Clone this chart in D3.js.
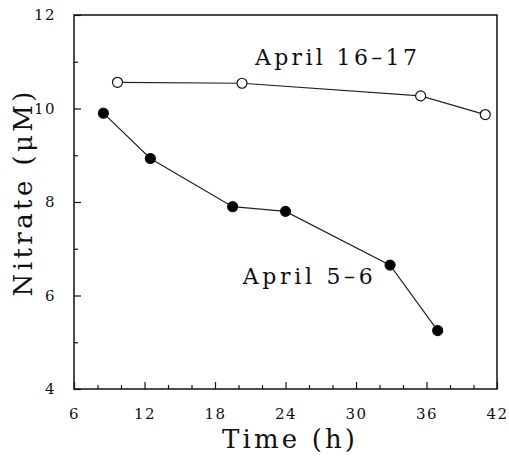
<!DOCTYPE html>
<html>
<head>
<meta charset="utf-8">
<script src="https://cdn.jsdelivr.net/npm/d3@7"></script>
<style>
  body { margin: 0; background: #fff; }
  svg { display: block; }
  text { font-family: "DejaVu Serif", serif; fill: #111; }
</style>
</head>
<body>
<svg id="chart"></svg>
<script>
// April 5-6 (filled circles)
const timeApr5 = [8.5, 12.5, 19.5, 24.0, 32.9, 36.95]
const nitrateApr5 = [9.9, 8.93, 7.9, 7.8, 6.65, 5.25]
// April 16-17 (open circles)
const timeApr16 = [9.7, 20.3, 35.5, 41.0]
const nitrateApr16 = [10.56, 10.54, 10.27, 9.87]

const X_TICKS = [6, 12, 18, 24, 30, 36, 42]
const Y_TICKS = [4, 6, 8, 10, 12]

const width = 509
const height = 456
const margin = { left: 74, right: 12, top: 15, bottom: 67 }

const svg = d3.select('#chart')
    .attr('width', width)
    .attr('height', height)

const x = d3.scaleLinear().domain([6, 42]).range([margin.left, width - margin.right])
const y = d3.scaleLinear().domain([4, 12]).range([height - margin.bottom, margin.top])

// frame
svg.append('rect')
    .attr('x', x(6))
    .attr('y', y(12))
    .attr('width', x(42) - x(6))
    .attr('height', y(4) - y(12))
    .attr('fill', 'none')
    .attr('stroke', '#111')
    .attr('stroke-width', 1.5)

// bottom axis: major ticks with labels, minor ticks every 2 h
const xMinor = d3.range(8, 42, 2).filter(d => !X_TICKS.includes(d))
svg.append('g')
    .attr('transform', `translate(0,${y(4)})`)
    .call(d3.axisBottom(x).tickValues(xMinor).tickSize(-4).tickFormat(''))
    .call(g => g.select('.domain').remove())
svg.append('g')
    .attr('transform', `translate(0,${y(4)})`)
    .call(d3.axisBottom(x).tickValues(X_TICKS).tickSize(-7).tickPadding(19))
    .call(g => g.select('.domain').remove())
    .call(g => g.selectAll('text').style('font-size', '15px').attr('letter-spacing', '1.5px'))

// left axis
const yMinor = [5, 7, 9, 11]
svg.append('g')
    .attr('transform', `translate(${x(6)},0)`)
    .call(d3.axisLeft(y).tickValues(yMinor).tickSize(-4).tickFormat(''))
    .call(g => g.select('.domain').remove())
svg.append('g')
    .attr('transform', `translate(${x(6)},0)`)
    .call(d3.axisLeft(y).tickValues(Y_TICKS).tickSize(-7).tickPadding(18))
    .call(g => g.select('.domain').remove())
    .call(g => g.selectAll('text').style('font-size', '15px').attr('letter-spacing', '1.5px'))

svg.selectAll('.tick line').attr('stroke', '#111').attr('stroke-width', 1.2)
svg.selectAll('.tick text').attr('fill', '#111').attr('font-family', '"DejaVu Serif", serif')

// axis titles
svg.append('text')
    .attr('x', (x(6) + x(42)) / 2 + 3)
    .attr('y', 448)
    .attr('text-anchor', 'middle')
    .style('font-size', '26px')
    .attr('textLength', 133)
    .attr('lengthAdjust', 'spacing')
    .text('Time (h)')

svg.append('text')
    .attr('transform', 'translate(32,194) rotate(-90)')
    .attr('text-anchor', 'middle')
    .style('font-size', '26px')
    .attr('textLength', 205)
    .attr('lengthAdjust', 'spacing')
    .text('Nitrate (μM)')

function drawSeries(times, values, filled) {
    const pts = times.map((t, i) => [t, values[i]])
    const line = d3.line().x(d => x(d[0])).y(d => y(d[1]))

    svg.append('path')
        .datum(pts)
        .attr('d', line)
        .attr('fill', 'none')
        .attr('stroke', '#222')
        .attr('stroke-width', 1.2)

    svg.append('g').selectAll('circle')
        .data(pts)
        .enter().append('circle')
        .attr('cx', d => x(d[0]))
        .attr('cy', d => y(d[1]))
        .attr('r', 5)
        .attr('fill', filled ? '#000' : '#fff')
        .attr('stroke', '#111')
        .attr('stroke-width', 1.2)
}

drawSeries(timeApr16, nitrateApr16, false)
drawSeries(timeApr5, nitrateApr5, true)

// series labels
svg.append('text')
    .attr('x', x(21.4))
    .attr('y', y(10.92))
    .style('font-size', '22px')
    .attr('textLength', 162)
    .attr('lengthAdjust', 'spacing')
    .text('April 16–17')

svg.append('text')
    .attr('x', x(20.36))
    .attr('y', y(6.25))
    .style('font-size', '22px')
    .attr('textLength', 130)
    .attr('lengthAdjust', 'spacing')
    .text('April 5–6')
</script>
</body>
</html>
